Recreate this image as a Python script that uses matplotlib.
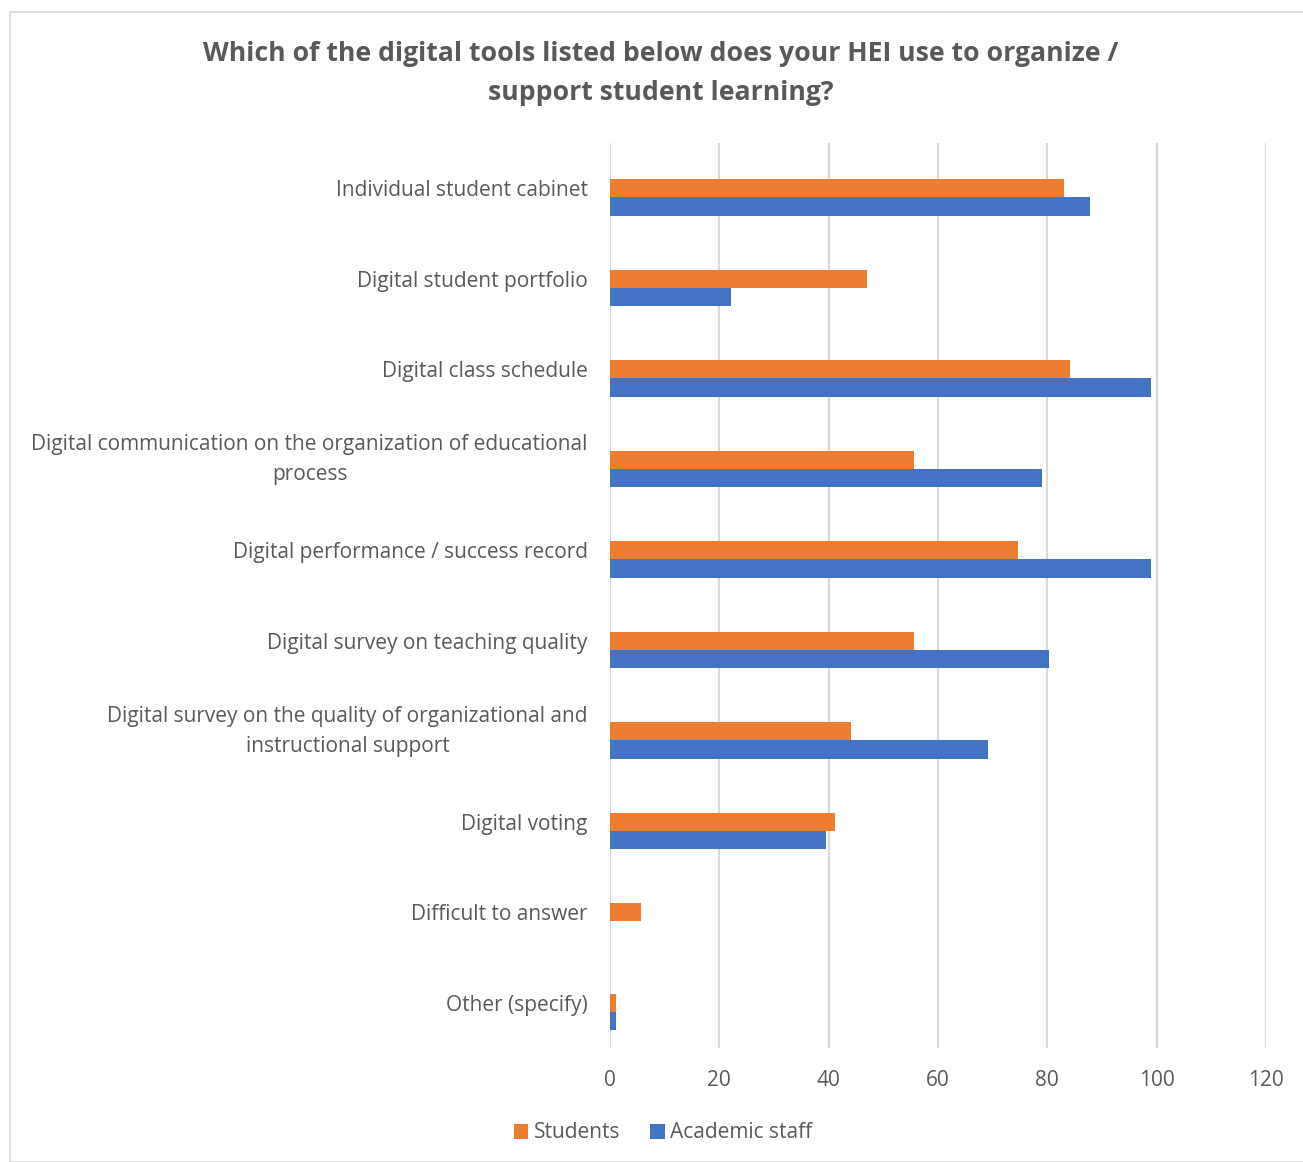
import matplotlib
matplotlib.use("Agg")
import matplotlib.pyplot as plt
from matplotlib.patches import Rectangle
import numpy as np

categories = [
    "Individual student cabinet",
    "Digital student portfolio",
    "Digital class schedule",
    "Digital communication on the organization of educational\nprocess",
    "Digital performance / success record",
    "Digital survey on teaching quality",
    "Digital survey on the quality of organizational and\ninstructional support",
    "Digital voting",
    "Difficult to answer",
    "Other (specify)",
]
students = [83.0, 47.0, 84.1, 55.7, 74.6, 55.7, 44.0, 41.2, 5.7, 1.1]
academic = [87.8, 22.2, 98.9, 79.0, 98.9, 80.3, 69.1, 39.5, 0.0, 1.1]
series_names = ["Students", "Academic staff"]
xticks = [0, 20, 40, 60, 80, 100, 120]

ORANGE = "#ED7D31"
BLUE = "#4472C4"
TXT = "#595959"
GRID = "#D9D9D9"
FONT = "Open Sans"

plt.rcParams['font.family'] = [FONT, 'DejaVu Sans']

fig = plt.figure(figsize=(13.03, 11.62), dpi=100)
ax = fig.add_axes([610/1303, 1-1048/1162, 656/1303, 905/1162])

y = np.arange(len(categories))
h = 0.202
ax.barh(y, students, height=h, color=ORANGE, label=series_names[0], zorder=3)
ax.barh(y + h, academic, height=h, color=BLUE, label=series_names[1], zorder=3)

ax.set_ylim(len(categories) - 0.5, -0.5)
ax.set_xlim(0, 120)
ax.set_xticks(xticks)
ax.set_yticks(y)
ax.set_yticklabels(categories, fontsize=15, color=TXT, ha='right',
                   multialignment='center', linespacing=1.55)
for lbl in ax.get_yticklabels():
    if "\n" in lbl.get_text():
        lbl.set_va('center')
ax.tick_params(axis='y', length=0, pad=16)
ax.tick_params(axis='x', length=0, pad=16, labelsize=15, labelcolor=TXT)
ax.grid(axis='x', color=GRID, linewidth=1.5, zorder=0)
for s in ax.spines.values():
    s.set_visible(False)

fig.text(661/1303, 1-54/1162, "Which of the digital tools listed below does your HEI use to organize /",
         ha='center', va='center', fontsize=19.2, fontweight='bold', color=TXT)
fig.text(661/1303, 1-93/1162, "support student learning?",
         ha='center', va='center', fontsize=19.2, fontweight='bold', color=TXT)

leg = fig.legend(loc='center', bbox_to_anchor=(663/1303, 1-1133/1162), ncol=2, frameon=False,
                 fontsize=15, handlelength=0.7, handleheight=0.7, handletextpad=0.25,
                 columnspacing=1.45)
for t in leg.get_texts():
    t.set_color(TXT)

fig.patches.append(Rectangle((10/1303, 0), 1.2, 1-12/1162, transform=fig.transFigure,
                             fill=False, edgecolor=GRID, linewidth=1.2))

fig.savefig("out.png", dpi=100, facecolor='white')
